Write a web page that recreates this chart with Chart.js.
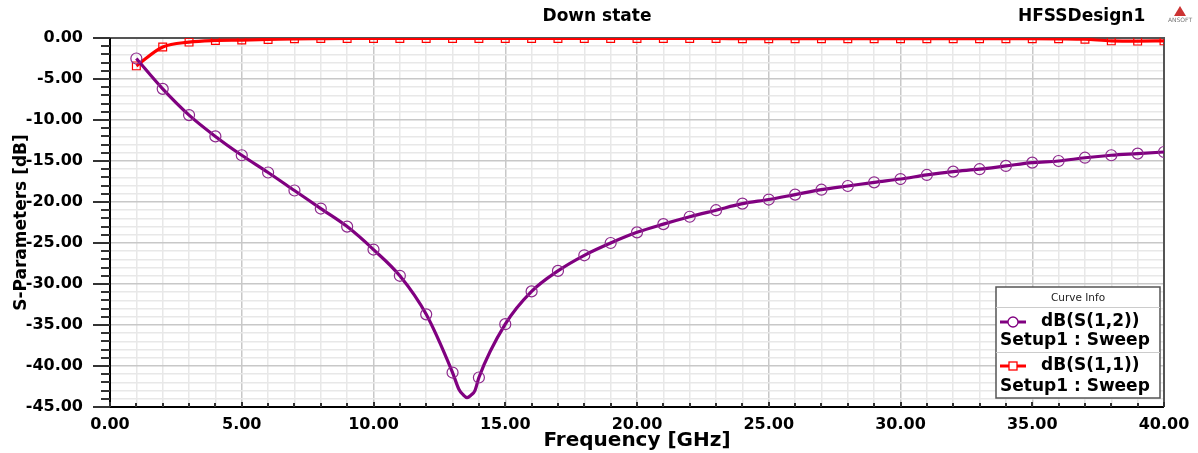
<!DOCTYPE html>
<html><head><meta charset="utf-8">
<script src="https://cdn.jsdelivr.net/npm/chart.js@4.4.0/dist/chart.umd.min.js"></script>
<style>html,body{margin:0;padding:0;background:#fff;}#wrap{width:1198px;height:453px;position:relative;}</style>
</head><body><div id="wrap"><canvas id="c" width="1198" height="453"></canvas></div>
<script>
// ---- data ----
const freqs = [1,2,3,4,5,6,7,8,9,10,11,12,13,14,15,16,17,18,19,20,21,22,23,24,25,26,27,28,29,30,31,32,33,34,35,36,37,38,39,40];
const s12 = [-2.5,-6.2,-9.4,-12.0,-14.3,-16.4,-18.6,-20.8,-23.0,-25.8,-29.0,-33.7,-40.8,-41.4,-34.9,-30.9,-28.4,-26.5,-25.0,-23.7,-22.7,-21.8,-21.0,-20.2,-19.7,-19.1,-18.5,-18.05,-17.6,-17.2,-16.7,-16.3,-16.0,-15.6,-15.2,-15.0,-14.6,-14.3,-14.1,-13.9];
const s11 = [-3.4,-1.1,-0.5,-0.3,-0.25,-0.18,-0.1,-0.07,-0.05,-0.05,-0.05,-0.05,-0.05,-0.05,-0.05,-0.05,-0.05,-0.05,-0.05,-0.05,-0.05,-0.05,-0.05,-0.08,-0.08,-0.08,-0.08,-0.08,-0.08,-0.08,-0.08,-0.08,-0.08,-0.08,-0.08,-0.1,-0.15,-0.35,-0.38,-0.35];
// extra points read along the S12 curve around the notch (no markers there)
const dipFreqs = [13.25,13.4,13.55,13.7,13.85];
const dipS12 = [-42.9,-43.5,-43.85,-43.55,-43.0];
const seriesNames = ['dB(S(1,2))','dB(S(1,1))'];
const sweepName = 'Setup1 : Sweep';
const chartTitle = 'Down state';
const designName = 'HFSSDesign1';
const xTitle = 'Frequency [GHz]';
const yTitle = 'S-Parameters [dB]';

const PURPLE = '#800080', RED = '#ff0000';
const s12pts = freqs.map((f,i)=>({x:f,y:s12[i]})).concat(dipFreqs.map((f,i)=>({x:f,y:dipS12[i]}))).sort((a,b)=>a.x-b.x);
const s11pts = freqs.map((f,i)=>({x:f,y:s11[i]}));
const isMarker = ctx => ctx.raw && Number.isInteger(ctx.raw.x);
const FONT = 'DejaVu Sans';

const deco = {
  id:'deco',
  beforeDatasetsDraw(chart){
    const {ctx, chartArea:a} = chart;
    ctx.save();
    ctx.strokeStyle='#555'; ctx.lineWidth=2;
    ctx.beginPath(); ctx.moveTo(a.left,a.top); ctx.lineTo(a.right,a.top); ctx.lineTo(a.right,a.bottom); ctx.stroke();
    ctx.strokeStyle='#000';
    ctx.beginPath(); ctx.moveTo(a.left,a.top); ctx.lineTo(a.left,a.bottom); ctx.lineTo(a.right,a.bottom); ctx.stroke();
    const ys = chart.scales.y, xs = chart.scales.x;
    ctx.strokeStyle='#333'; ctx.lineWidth=2;
    ys.ticks.forEach(t=>{
      const p = Math.round(ys.getPixelForValue(t.value));
      const maj = Math.round(t.value)%5===0;
      ctx.beginPath(); ctx.moveTo(a.left-(maj?17:9),p); ctx.lineTo(a.left,p); ctx.stroke();
    });
    xs.ticks.forEach(t=>{
      const p = Math.round(xs.getPixelForValue(t.value));
      const maj = Math.round(t.value)%5===0;
      ctx.beginPath(); ctx.moveTo(p,a.bottom); ctx.lineTo(p,a.bottom-(maj?5:4)); ctx.stroke();
    });
    ctx.restore();
  },
  afterDraw(chart){
    const ctx = chart.ctx;
    ctx.save();
    ctx.fillStyle='#000'; ctx.textBaseline='middle';
    ctx.font='bold 17px "'+FONT+'"';
    ctx.textAlign='center'; ctx.fillText(chartTitle,597,17);
    ctx.textAlign='left'; ctx.fillText(designName,1018,17);
    ctx.fillStyle='#c33';
    ctx.beginPath(); ctx.moveTo(1180,6); ctx.lineTo(1186,16); ctx.lineTo(1174,16); ctx.closePath(); ctx.fill();
    ctx.fillStyle='#777'; ctx.font='6px "'+FONT+'"'; ctx.textAlign='center'; ctx.fillText('ANSOFT',1180,20);
    const L=996,T=287,R=1160,B=398;
    ctx.fillStyle='#fff'; ctx.fillRect(L,T,R-L,B-T);
    ctx.strokeStyle='#555'; ctx.lineWidth=1.5; ctx.strokeRect(L,T,R-L,B-T);
    ctx.strokeStyle='#ccc'; ctx.lineWidth=1;
    ctx.beginPath(); ctx.moveTo(L,307.5); ctx.lineTo(R,307.5); ctx.moveTo(L,352.5); ctx.lineTo(R,352.5); ctx.stroke();
    ctx.fillStyle='#222'; ctx.font='10.5px "'+FONT+'"'; ctx.textAlign='center'; ctx.fillText('Curve Info',1078,298);
    const entries=[{c:PURPLE,y:322,y2:341,m:'circle'},{c:RED,y:366,y2:387,m:'square'}];
    entries.forEach((e,i)=>{
      ctx.strokeStyle=e.c; ctx.lineWidth=3;
      ctx.beginPath(); ctx.moveTo(1000,e.y); ctx.lineTo(1026,e.y); ctx.stroke();
      ctx.lineWidth=1.3; ctx.fillStyle='#fff';
      if(e.m==='circle'){ctx.beginPath(); ctx.arc(1013,e.y,5,0,Math.PI*2); ctx.fill(); ctx.stroke();}
      else {ctx.fillRect(1009,e.y-4,8,8); ctx.strokeRect(1009,e.y-4,8,8);}
      ctx.fillStyle='#000'; ctx.font='bold 17px "'+FONT+'"'; ctx.textAlign='left';
      ctx.fillText(seriesNames[i],1041,e.y);
      ctx.fillText(sweepName,1000,e.y2);
    });
    ctx.restore();
  }
};

const tickFont = {family:FONT, weight:'bold', size:16};
new Chart(document.getElementById('c'), {
  type:'line',
  data:{datasets:[
    {label:seriesNames[0], data:s12pts, borderColor:PURPLE, borderWidth:3.2, cubicInterpolationMode:'monotone',
     pointStyle:'circle', pointRadius:ctx=>isMarker(ctx)?5.5:0, pointBorderColor:'#8e2a8e', pointBorderWidth:1.2, pointBackgroundColor:'rgba(0,0,0,0)'},
    {label:seriesNames[1], data:s11pts, borderColor:RED, borderWidth:3.2, cubicInterpolationMode:'monotone',
     pointStyle:'rect', pointRadius:ctx=>isMarker(ctx)?5.5:0, pointBorderColor:RED, pointBorderWidth:1.2, pointBackgroundColor:'rgba(0,0,0,0)'}
  ]},
  options:{
    responsive:false, animation:false, devicePixelRatio:1,
    layout:{padding:{top:38,right:34,left:0,bottom:0}},
    plugins:{legend:{display:false}, title:{display:false}, tooltip:{enabled:false}},
    scales:{
      x:{type:'linear', min:0, max:40, afterFit(s){s.height=46;},
        ticks:{stepSize:1, autoSkip:false, maxRotation:0, padding:8, font:tickFont, color:'#000',
          callback:v=>Math.round(v)%5===0?Number(v).toFixed(2):''},
        grid:{drawTicks:false, color:c=>(c.tick&&Math.round(c.tick.value)%5===0)?'#c8c8c8':'#e8e8e8', lineWidth:1.5},
        border:{display:false},
        title:{display:true, text:xTitle, color:'#000', font:{family:FONT,weight:'bold',size:20}, padding:{top:0,bottom:0}}
      },
      y:{min:-45, max:0, afterFit(s){s.width=110;},
        ticks:{stepSize:1, autoSkip:false, padding:27, font:tickFont, color:'#000',
          callback:v=>Math.round(v)%5===0?(Math.round(v)===0?'0.00':Number(v).toFixed(2)):''},
        grid:{drawTicks:false, color:c=>(c.tick&&Math.round(c.tick.value)%5===0)?'#c8c8c8':'#e8e8e8', lineWidth:1.5},
        border:{display:false},
        title:{display:true, text:yTitle, color:'#000', font:{family:FONT,weight:'bold',size:17}, padding:{top:11,bottom:0}}
      }
    }
  },
  plugins:[deco]
});
</script></body></html>
